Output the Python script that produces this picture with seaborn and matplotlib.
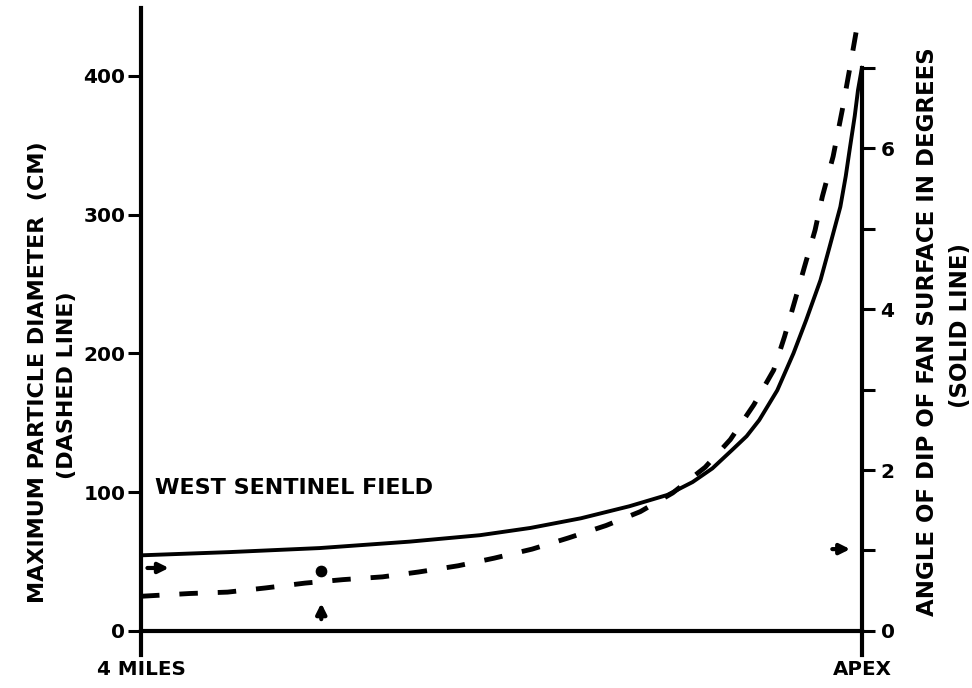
import numpy as np
import pandas as pd
import seaborn as sns
import matplotlib
matplotlib.use("Agg")
import matplotlib.pyplot as plt

# distance from apex (miles) and readings taken off the figure
dash_miles = [4.0, 3.73, 3.52, 3.31, 3.09, 2.88, 2.66, 2.46, 2.24, 2.04, 1.83, 1.63,
              1.42, 1.23, 1.05, 0.87, 0.73, 0.60, 0.49, 0.43, 0.37, 0.32, 0.26, 0.22,
              0.16, 0.11, 0.067, 0.028, 0.015]
diameter_cm = [25, 27, 28, 31, 34.5, 37, 39, 42.5, 47, 52.5, 59, 67,
               76, 86, 99.5, 118, 138, 163, 188, 212, 239, 262, 289, 313,
               342, 375, 406, 435, 442]

solid_miles = [4.0, 3.51, 3.01, 2.51, 2.12, 1.84, 1.56, 1.29, 1.08, 0.94, 0.83, 0.72,
               0.64, 0.57, 0.47, 0.38, 0.31, 0.23, 0.18, 0.12, 0.09, 0.067, 0.04,
               0.022, 0.0]
dip_deg = [0.94, 0.98, 1.03, 1.11, 1.19, 1.28, 1.40, 1.55, 1.69, 1.85, 2.02, 2.25,
           2.42, 2.62, 2.99, 3.45, 3.86, 4.36, 4.77, 5.27, 5.65, 6.0, 6.4,
           6.72, 7.0]

sample_miles = [3.0]
sample_cm = [43]

x_ticks = [4, 3, 2, 1, 0]
x_labels = ["4 MILES", "", "", "", "APEX"]
left_ticks = [0, 100, 200, 300, 400]
right_ticks = [0, 1, 2, 3, 4, 5, 6, 7]
right_labels = ["0", "", "2", "", "4", "", "6", ""]

sns.set_style("white")
plt.rcParams["font.family"] = ["DejaVu Sans"]
plt.rcParams["font.weight"] = "bold"
plt.rcParams["text.color"] = "black"
plt.rcParams["xtick.color"] = "black"
plt.rcParams["ytick.color"] = "black"
plt.rcParams["axes.labelcolor"] = "black"

fig = plt.figure(figsize=(9.72, 6.88), dpi=100)
ax = fig.add_axes([0.1451, 0.048, 0.7417, 0.9404])
ax2 = ax.twinx()

sns.lineplot(x=dash_miles, y=diameter_cm, ax=ax, color="black", lw=3.5,
             linestyle=(0, (3.8, 4.1)), sort=False)
sns.lineplot(x=solid_miles, y=dip_deg, ax=ax2, color="black", lw=2.8, sort=False)
sns.scatterplot(x=sample_miles, y=sample_cm, ax=ax, color="black", s=85, zorder=5)

ax.set_xlim(4, 0)
ax.set_ylim(-17.3, 449)
ax2.set_ylim(-0.298, 7.74)

for a in (ax, ax2):
    a.spines["top"].set_visible(False)
    for s in a.spines.values():
        s.set_linewidth(3)
        s.set_color("black")
ax.spines["right"].set_visible(False)
ax2.spines["left"].set_visible(False)
ax2.spines["bottom"].set_visible(False)
ax2.spines["right"].set_bounds(-0.298, 7)
ax.spines["bottom"].set_position(("data", 0))

ax.set_xticks(x_ticks)
ax.set_xticklabels(x_labels, fontsize=14.3, fontweight="bold")
ax.tick_params(axis="x", direction="out", length=10, width=2.4, pad=11)
ax.set_yticks(left_ticks)
ax.set_yticklabels([str(v) for v in left_ticks], fontsize=14.5, fontweight="bold")
ax.tick_params(axis="y", direction="out", length=9.4, width=2.2, pad=2)
ax2.set_yticks(right_ticks)
ax2.set_yticklabels(right_labels, fontsize=14.5, fontweight="bold")
ax2.tick_params(axis="y", direction="out", length=9.4, width=2.2, pad=4)
ax.set_xlabel("")
ax.set_ylabel("")

ax.text(3.92, 103, "WEST SENTINEL FIELD", fontsize=16, fontweight="bold",
        va="center", ha="left")

arrow = dict(arrowstyle="-|>", color="black", lw=3, mutation_scale=15)
ax.annotate("", xy=(3.83, 45.4), xytext=(3.98, 45.4), arrowprops=arrow)
ax.annotate("", xy=(0.05, 59), xytext=(0.18, 59), arrowprops=arrow)
ax.annotate("", xy=(3.0, 22), xytext=(3.0, 6.5), arrowprops=arrow)

fig.text(0.0391, 0.4593, "MAXIMUM PARTICLE DIAMETER  (CM)", rotation=90,
         fontsize=16, fontweight="bold", ha="center", va="center")
fig.text(0.0689, 0.4404, "(DASHED LINE)", rotation=90,
         fontsize=16, fontweight="bold", ha="center", va="center")
fig.text(0.9547, 0.5174, "ANGLE OF DIP OF FAN SURFACE IN DEGREES", rotation=90,
         fontsize=16.5, fontweight="bold", ha="center", va="center")
fig.text(0.9877, 0.5276, "(SOLID LINE)", rotation=90,
         fontsize=16.5, fontweight="bold", ha="center", va="center")

fig.savefig("out.png", dpi=100)
